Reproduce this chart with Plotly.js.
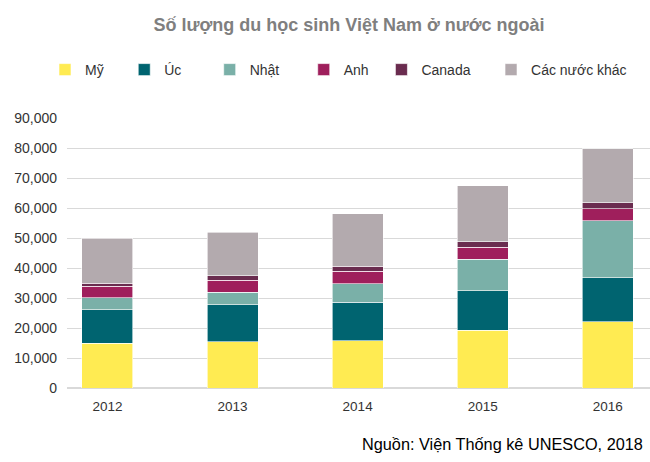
<!DOCTYPE html>
<html>
<head>
<meta charset="utf-8">
<script src="https://cdn.plot.ly/plotly-3.0.1.min.js"></script>
<style>html,body{margin:0;padding:0;background:#fff;}</style>
</head>
<body>
<div id="chart" style="width:650px;height:462px;"></div>
<script>
const years = ['2012', '2013', '2014', '2015', '2016'];
const seriesNames = ['Mỹ', 'Úc', 'Nhật', 'Anh', 'Canada', 'Các nước khác'];
const my = [15000, 15400, 15700, 19300, 22100];
const uc = [11100, 12400, 12900, 13100, 14600];
const nhat = [4000, 4100, 6100, 10600, 19000];
const anh = [3900, 4100, 4200, 4000, 4000];
const canada = [1000, 1400, 1700, 1800, 2100];
const khac = [15000, 14600, 17500, 18600, 17900];
const colors = ['#FFEB52', '#006470', '#7AB0A8', '#9F1F5C', '#6A2C4F', '#B3AAAE'];
const allValues = [my, uc, nhat, anh, canada, khac];
// trailing non-breaking spaces widen legend entries to match the reference spacing
const legendPad = [4, 6, 5, 2, 4, 0];

const traces = allValues.map((vals, i) => ({
  type: 'bar',
  name: seriesNames[i] + '\u00a0'.repeat(legendPad[i]),
  x: years,
  y: vals,
  marker: {color: colors[i], line: {color: '#ffffff', width: 0.6}},
  hovertemplate: '%{x}: %{y:,}<extra>' + seriesNames[i] + '</extra>'
}));

const layout = {
  width: 650,
  height: 462,
  margin: {l: 67, r: 0, t: 118, b: 74, pad: 0},
  paper_bgcolor: '#ffffff',
  plot_bgcolor: '#ffffff',
  barmode: 'stack',
  bargap: 0.592,
  font: {family: 'Liberation Sans, Arial, sans-serif', size: 13, color: '#333333'},
  title: {
    text: '<b>Số lượng du học sinh Việt Nam ở nước ngoài</b>',
    font: {family: 'Liberation Sans, Arial, sans-serif', size: 18, color: '#7F7F7F'},
    xref: 'container', x: 0.537, xanchor: 'center',
    yref: 'container', y: 1 - 25 / 462, yanchor: 'middle'
  },
  xaxis: {
    type: 'category',
    range: [-0.323, 4.337],
    showgrid: false,
    zeroline: false,
    showline: false,
    ticks: '',
    tickfont: {size: 13.5, color: '#333333'},
    ticklabelstandoff: 8
  },
  yaxis: {
    range: [0, 90000],
    dtick: 10000,
    tickformat: ',d',
    showgrid: true,
    gridcolor: '#D9D9D9',
    gridwidth: 1,
    zeroline: true,
    zerolinecolor: '#D9D9D9',
    zerolinewidth: 1.5,
    showline: false,
    ticks: '',
    tickfont: {size: 14, color: '#333333'},
    ticklabelstandoff: 9
  },
  legend: {
    orientation: 'h',
    traceorder: 'normal',
    xref: 'container', x: 45 / 650, xanchor: 'left',
    yref: 'container', y: 1 - 70 / 462, yanchor: 'middle',
    font: {size: 14, color: '#333333'},
    bgcolor: 'rgba(0,0,0,0)'
  },
  annotations: [{
    text: 'Nguồn: Viện Thống kê UNESCO, 2018',
    xref: 'paper', yref: 'paper',
    x: (645 - 67) / 583, xanchor: 'right',
    y: -(444 - 388) / 270, yanchor: 'middle',
    showarrow: false,
    font: {family: 'Liberation Sans, Arial, sans-serif', size: 16.3, color: '#000000'}
  }]
};

Plotly.newPlot('chart', traces, layout, {displayModeBar: false, responsive: false});
</script>
</body>
</html>
